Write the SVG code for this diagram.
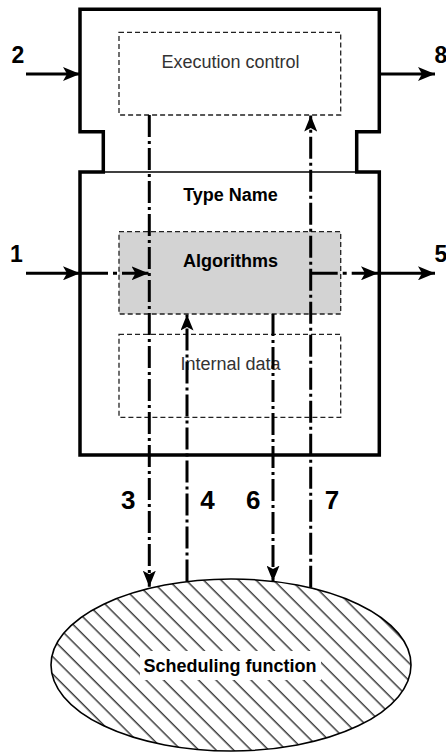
<svg xmlns="http://www.w3.org/2000/svg" width="446" height="753" viewBox="0 0 446 753">
<style>
.outer{fill:none;stroke:#000;stroke-width:3.5;stroke-linejoin:miter}
.dbox{stroke:#222;stroke-width:1.3;stroke-dasharray:5 3}
.dd{fill:none;stroke:#000;stroke-width:3;stroke-dasharray:22 4 3 4}
.sol{fill:none;stroke:#000;stroke-width:3}
.lbl{font-family:"Liberation Sans",Arial,sans-serif;font-size:18px;fill:#333;text-anchor:middle}
.blbl{font-family:"Liberation Sans",Arial,sans-serif;font-size:18px;font-weight:bold;fill:#000;text-anchor:middle}
.num{font-family:"Liberation Sans",Arial,sans-serif;font-weight:bold;fill:#000}
</style>
<defs>
<marker id="ah" markerUnits="userSpaceOnUse" viewBox="0 0 17 14" refX="17" refY="7" markerWidth="17" markerHeight="14" orient="auto">
<path d="M0,0 L17,7 L0,14 L4,7 Z" fill="#000"/>
</marker>
<marker id="av" markerUnits="userSpaceOnUse" viewBox="0 0 16 13" refX="16" refY="6.5" markerWidth="16" markerHeight="13" orient="auto">
<path d="M0,0 L16,6.5 L0,13 L3.5,6.5 Z" fill="#000"/>
</marker>
<pattern id="hatch" patternUnits="userSpaceOnUse" width="12.37" height="20" patternTransform="rotate(-45)">
<line x1="5.9" y1="-1" x2="5.9" y2="21" stroke="#222" stroke-width="1.3"/>
</pattern>
</defs>
<rect width="446" height="753" fill="#fff"/>

<g id="component">
<path class="outer" d="M80,9.3 H379.3 V131.7 H356.7 V172 H379.3 V455 H80 V172 H103.3 V131.7 H80 Z"/>
<line x1="103.3" y1="172" x2="356.7" y2="172" stroke="#000" stroke-width="1.7"/>
<text class="blbl" x="230.5" y="200.5">Type Name</text>
</g>

<g id="execution-control">
<rect class="dbox" x="119" y="32.3" width="221.7" height="82.7" fill="none"/>
<text class="lbl" x="230.5" y="67.7">Execution control</text>
</g>

<g id="algorithms">
<rect class="dbox" x="119" y="231.7" width="221.7" height="82.3" fill="#d3d3d3"/>
<text class="blbl" x="230.5" y="266.7">Algorithms</text>
</g>

<g id="internal-data">
<rect class="dbox" x="119" y="334.3" width="221.7" height="83" fill="none"/>
<text class="lbl" x="230.5" y="370">Internal data</text>
</g>

<g id="scheduling-function">
<ellipse cx="231" cy="665" rx="180" ry="86" fill="url(#hatch)" stroke="#000" stroke-width="1.6"/>
<rect x="140" y="651" width="181" height="29" fill="#fff"/>
<text class="blbl" x="230" y="671.5">Scheduling function</text>
</g>

<g id="connectors">
<path class="sol" d="M26,74 H80" marker-end="url(#ah)"/>
<path class="sol" d="M379.3,74 H435" marker-end="url(#ah)"/>
<path class="sol" d="M26,273.3 H80" marker-end="url(#ah)"/>
<path class="sol" d="M80,273.3 H148.5" style="stroke-dasharray:28 5 4 5 60" marker-end="url(#ah)"/>
<path class="sol" d="M310.7,273.3 H378" style="stroke-dasharray:27 5 4 5 60" marker-end="url(#ah)"/>
<path class="sol" d="M379.3,273.3 H435" marker-end="url(#ah)"/>
<path class="dd" d="M149.3,115 V586.7" marker-end="url(#av)"/>
<path class="dd" d="M187,581.6 V314.5" marker-end="url(#av)"/>
<path class="dd" d="M273,314 V581.6" marker-end="url(#av)"/>
<path class="dd" d="M310.7,587.7 V115.5" marker-end="url(#av)"/>
</g>

<g id="labels">
<text class="num" x="11.5" y="62.7" font-size="23">2</text>
<text class="num" x="434.5" y="62.7" font-size="23">8</text>
<text class="num" x="10" y="261.7" font-size="23">1</text>
<text class="num" x="434.5" y="261.7" font-size="23">5</text>
<text class="num" x="128.3" y="509" font-size="26" text-anchor="middle">3</text>
<text class="num" x="207.5" y="509" font-size="26" text-anchor="middle">4</text>
<text class="num" x="253.2" y="509" font-size="26" text-anchor="middle">6</text>
<text class="num" x="332" y="509" font-size="26" text-anchor="middle">7</text>
</g>
</svg>
